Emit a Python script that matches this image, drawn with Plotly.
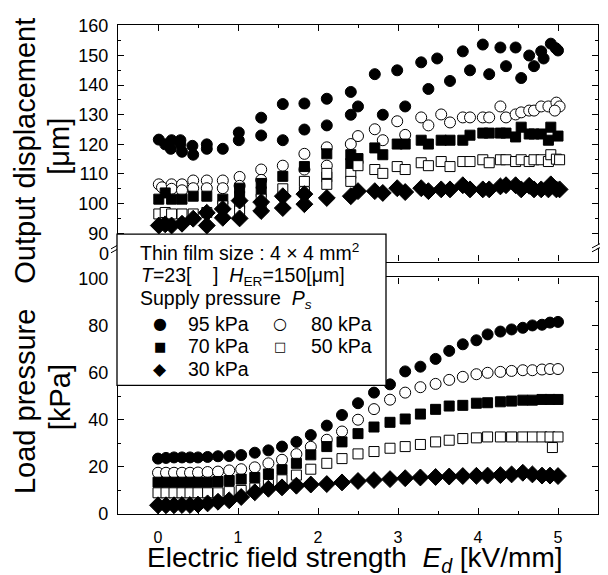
import plotly.graph_objects as go

# ---------------- data ----------------
# Upper panel: output displacement [um]
top_x_95 = [0.01,0.09,0.17,0.16,0.28,0.28,0.30,0.43,0.44,0.61,0.61,0.81,1.01,1.01,1.29,1.29,1.56,1.56,1.83,1.83,
            2.11,2.11,2.41,2.50,2.41,2.71,2.81,2.99,3.09,3.29,3.38,3.49,3.65,3.81,3.90,4.06,4.14,4.28,4.35,4.47,
            4.54,4.64,4.70,4.79,4.82,4.91,5.00,4.97]
top_y_95 = [121.6,120.0,121.4,118.5,121.4,120.0,117.5,119.5,116.5,120.0,118.5,118.5,124.0,121.4,129.0,123.0,133.6,121.4,133.8,125.0,
            135.4,126.4,137.7,132.8,130.0,143.7,130.0,145.0,132.8,147.7,138.7,149.0,141.4,151.4,145.0,153.7,143.7,152.7,146.4,152.7,
            142.4,150.0,146.4,151.4,149.0,154.0,151.7,152.5]

top_x_80 = [0.01,0.05,0.17,0.17,0.30,0.30,0.44,0.44,0.61,0.61,0.81,0.81,1.02,1.02,1.29,1.29,1.56,1.83,1.83,
            2.11,2.11,2.41,2.50,2.71,2.81,2.99,3.09,3.29,3.38,3.54,3.65,3.81,3.90,4.06,4.14,4.28,4.35,4.47,4.54,
            4.64,4.70,4.79,4.88,4.98,5.02,4.96]
top_y_80 = [106.5,105.5,106.5,105.0,106.5,104.5,107.8,105.2,107.8,105.2,107.8,105.2,109.0,106.0,111.5,108.0,112.8,116.8,111.5,
            119.0,112.8,120.1,122.8,125.1,121.4,127.8,123.2,129.1,126.4,130.1,127.4,129.1,129.1,129.1,129.1,132.8,129.1,130.1,130.8,
            131.4,131.4,132.8,132.8,134.1,132.8,131.4]

top_x_70 = [0.01,0.09,0.17,0.30,0.44,0.61,0.81,1.02,1.02,1.29,1.29,1.56,1.83,2.11,2.11,2.41,2.50,2.41,
            2.71,2.81,2.99,3.09,3.29,3.38,3.54,3.65,3.81,3.90,4.06,4.14,4.28,4.35,4.47,4.54,4.64,4.70,4.79,4.88,
            4.91,5.00]
top_y_70 = [101.5,103.6,101.5,101.5,102.5,102.5,101.5,105.2,102.5,106.8,104.0,109.2,112.5,116.8,109.0,116.5,115.2,113.5,
            118.8,116.5,120.1,120.1,121.4,120.1,121.4,121.4,121.4,123.1,123.8,123.8,123.8,123.8,122.5,125.8,123.5,123.5,123.5,121.4,
            125.8,122.8]

top_x_50 = [0.01,0.09,0.17,0.30,0.44,0.61,0.81,1.02,1.02,1.29,1.29,1.56,1.83,1.83,2.11,2.11,2.41,2.50,2.41,2.71,
            2.81,2.99,3.09,3.29,3.38,3.54,3.65,3.81,3.90,4.06,4.14,4.28,4.35,4.47,4.54,4.64,4.70,4.79,4.88,4.91,
            4.98,5.02]
top_y_50 = [96.5,97.0,96.5,96.5,96.5,97.0,99.2,100.0,97.5,99.2,101.5,105.0,107.5,104.0,110.2,106.5,110.2,112.8,107.5,111.5,
            110.2,112.5,111.5,113.8,112.8,114.2,112.5,114.2,114.2,114.8,113.8,114.8,114.8,114.2,114.8,114.2,114.8,114.8,114.2,116.5,
            115.0,114.8]

top_x_30 = [0.01,0.09,0.17,0.30,0.44,0.61,0.61,0.81,0.81,1.02,1.02,1.29,1.29,1.56,1.56,1.83,1.83,2.11,2.41,2.50,
            2.71,2.81,2.99,3.09,3.29,3.38,3.54,3.65,3.81,3.90,4.06,4.14,4.28,4.35,4.47,4.54,4.64,4.70,4.79,4.88,
            4.91,4.98,5.02]
top_y_30 = [92.6,93.0,92.6,93.2,94.9,96.9,92.6,98.2,95.2,101.0,95.0,100.5,97.5,102.5,98.5,103.2,99.8,101.9,102.5,104.2,
            104.2,103.6,105.2,103.9,105.2,104.2,104.8,104.8,106.2,104.8,104.8,104.8,105.8,106.2,106.2,104.8,106.0,104.8,104.8,104.8,
            106.5,104.8,104.8]

# Lower panel: load pressure [kPa]
bot_x = [0.0,0.1,0.2,0.3,0.4,0.5,0.62,0.75,0.89,1.04,1.21,1.38,1.55,1.73,1.91,2.11,2.30,2.50,2.70,2.90,
         3.09,3.28,3.47,3.64,3.81,3.98,4.12,4.28,4.42,4.56,4.68,4.80,4.90,5.0]
bot_95 = [23.5,23.8,24.0,24.0,24.0,24.0,24.2,24.5,24.6,25.0,26.0,27.0,28.6,30.6,33.5,37.5,42.0,47.0,51.5,55.0,
          60.5,62.5,65.8,69.2,72.0,73.7,76.2,77.4,78.3,79.0,80.0,80.3,81.2,81.5]
bot_80 = [17.5,17.5,17.5,17.5,17.5,17.6,17.8,18.0,18.5,19.0,19.8,21.5,23.0,25.4,28.5,31.5,35.0,40.0,44.5,48.5,
          51.5,53.8,55.2,56.9,58.2,59.3,59.9,60.3,60.7,61.0,61.0,61.3,61.5,61.5]
bot_70 = [13.5,13.5,13.5,13.5,13.5,13.5,13.5,13.8,14.2,14.8,15.5,17.0,18.8,21.5,25.1,28.6,30.6,34.1,36.9,38.9,
          40.3,42.4,44.4,45.8,46.1,47.0,47.2,47.6,47.9,48.3,48.3,48.6,48.6,48.6]
bot_50 = [9.0,9.0,9.0,9.0,9.0,9.0,9.0,9.0,9.5,10.0,11.0,12.5,14.5,16.5,19.0,21.5,23.5,25.5,26.5,27.9,
          28.6,29.5,30.6,31.3,32.0,32.3,32.7,32.7,32.7,32.7,32.7,32.7,32.7,32.7]
bot_50_extra_x = [4.93]
bot_50_extra_y = [28.2]
bot_30 = [3.7,3.7,3.7,3.8,3.8,4.0,4.5,5.2,5.8,7.2,9.2,10.7,11.3,12.0,12.5,12.7,13.4,14.0,14.4,14.8,
          15.2,15.5,15.7,15.9,16.1,16.2,16.3,16.5,16.8,17.5,16.8,16.3,16.3,16.1]

legend_labels = ["95 kPa", "80 kPa", "70 kPa", "50 kPa", "30 kPa"]
x_ticks = [0, 1, 2, 3, 4, 5]

# ---------------- styling ----------------
FONT = "Liberation Sans, Arial, sans-serif"
OFF = 8                       # the page body margin shifts the figure by 8 px
W, H = 608 - OFF, 575 - OFF
# plot area in page pixels
L, R, T, B = 118, 598, 16, 514
TOP_BOTTOM_PX, BOT_TOP_PX = 257, 273


def px(xp):
    return (xp - L) / (R - L)


def py(yp):
    return (B - yp) / (B - T)


styles = {
    "95": dict(symbol="circle", size=11, color="black", line=dict(color="black", width=1)),
    "80": dict(symbol="circle", size=11, color="white", line=dict(color="black", width=1)),
    "70": dict(symbol="square", size=10, color="black", line=dict(color="black", width=1)),
    "50": dict(symbol="square", size=10, color="white", line=dict(color="black", width=1)),
    "30": dict(symbol="diamond", size=13, color="black", line=dict(color="black", width=1)),
}

fig = go.Figure()

top_sets = [("95", top_x_95, top_y_95), ("80", top_x_80, top_y_80), ("70", top_x_70, top_y_70),
            ("50", top_x_50, top_y_50), ("30", top_x_30, top_y_30)]
for k, xs, ys in top_sets:
    fig.add_trace(go.Scatter(x=xs, y=ys, mode="markers", marker=styles[k], xaxis="x2", yaxis="y2",
                             showlegend=False, cliponaxis=True))

bot_sets = [("95", bot_x, bot_95), ("80", bot_x, bot_80), ("70", bot_x, bot_70),
            ("50", bot_x + bot_50_extra_x, bot_50 + bot_50_extra_y), ("30", bot_x, bot_30)]
for k, xs, ys in bot_sets:
    fig.add_trace(go.Scatter(x=xs, y=ys, mode="markers", marker=styles[k], xaxis="x", yaxis="y",
                             showlegend=False, cliponaxis=True))

TICKFONT = dict(family=FONT, size=18, color="black")
axis_common = dict(showline=True, linecolor="black", linewidth=1.3, mirror="ticks", ticks="inside",
                   ticklen=6, tickwidth=1.2, tickcolor="black", showgrid=False, zeroline=False,
                   tickfont=TICKFONT)

top_frac = py(TOP_BOTTOM_PX)
bot_frac = py(BOT_TOP_PX)

fig.update_layout(
    width=W, height=H,
    margin=dict(l=L - OFF, r=608 - R, t=T - OFF, b=575 - B, pad=0),
    paper_bgcolor="white", plot_bgcolor="white",
    xaxis=dict(axis_common, domain=[0, 1], anchor="y", range=[-0.5, 5.5], tickvals=x_ticks,
               tickfont=dict(family=FONT, size=16, color="black"),
               minor=dict(dtick=0.5, ticks="inside", ticklen=3, tickcolor="black"),
               ticklabelstandoff=9),
    yaxis=dict(axis_common, domain=[0, bot_frac], anchor="x", range=[0, 100.4], dtick=20, tick0=0,
               minor=dict(dtick=10, ticks="inside", ticklen=3, tickcolor="black"),
               ticklabelstandoff=5),
    xaxis2=dict(axis_common, domain=[0, 1], anchor="y2", range=[-0.5, 5.5], tickvals=x_ticks,
                showticklabels=False,
                minor=dict(dtick=0.5, ticks="inside", ticklen=3, tickcolor="black")),
    yaxis2=dict(axis_common, domain=[top_frac, 1], anchor="x2", range=[80.4, 160.3], dtick=10, tick0=0,
                minor=dict(dtick=5, ticks="inside", ticklen=3, tickcolor="black"),
                ticklabelstandoff=5),
)

shapes = []
# axis break marks (right side)
shapes.append(dict(type="path", xref="paper", yref="paper",
                   path=f"M {px(593)},{py(246)} L {px(604)},{py(240)} L {px(604)},{py(236)} L {px(593)},{py(242)} Z",
                   fillcolor="white", line=dict(width=0), layer="above"))
for off in (0, 4):
    shapes.append(dict(type="line", xref="paper", yref="paper",
                       x0=px(592), y0=py(247 - off), x1=px(605), y1=py(240 - off),
                       line=dict(color="black", width=1), layer="above"))
# axis break marks (left side)
for off in (0, 4):
    shapes.append(dict(type="line", xref="paper", yref="paper",
                       x0=px(111), y0=py(248 - off), x1=px(118), y1=py(244 - off),
                       line=dict(color="black", width=1), layer="above"))
# legend box
shapes.append(dict(type="rect", xref="paper", yref="paper",
                   x0=px(117), y0=py(383), x1=px(386), y1=py(229),
                   fillcolor="white", line=dict(color="black", width=1.3), layer="above"))
fig.update_layout(shapes=shapes)

ann = []


def text(xp, yp, s, size=19.5, xanchor="left", yanchor="middle", angle=0, family=FONT):
    ann.append(dict(x=px(xp), y=py(yp), xref="paper", yref="paper", text=s, showarrow=False,
                    xanchor=xanchor, yanchor=yanchor, textangle=angle,
                    font=dict(family=family, size=size, color="black")))


# break label
text(111, 249, "0", size=18, xanchor="right")

# legend contents
text(138, 247, "Thin film size : 4 × 4 mm<sup>2</sup>")
text(139, 272, "<i>T</i>=23[    ]  <i>H</i><sub>ER</sub>=150[μm]")
text(138, 296, "Supply pressure  <i>P</i><sub><i>s</i></sub>")
glyphs = ["●", "○", "■", "□", "◆"]
gx = [160, 280, 160, 280, 160]
gy = [320, 320, 343, 343, 366]
tx = [186, 309, 186, 309, 186]
gsz = [16, 16, 13, 13, 17]
for g, x0, y0, t, lab, s in zip(glyphs, gx, gy, tx, legend_labels, gsz):
    text(x0, y0, g, size=s, xanchor="center", family="DejaVu Sans")
    text(t, y0, lab)

# axis titles
text(25, 144, "Output displacement", size=29, xanchor="center", angle=-90)
text(59, 140, "[μm]", size=29, xanchor="center", angle=-90)
text(25, 400, "Load pressure", size=29, xanchor="center", angle=-90)
text(60, 395, "[kPa]", size=29, xanchor="center", angle=-90)
text(355, 560, "Electric field strength  <i>E</i><sub><i>d</i></sub> [kV/mm]", size=28, xanchor="center")

fig.update_layout(annotations=ann)

fig.write_html("out.html")
